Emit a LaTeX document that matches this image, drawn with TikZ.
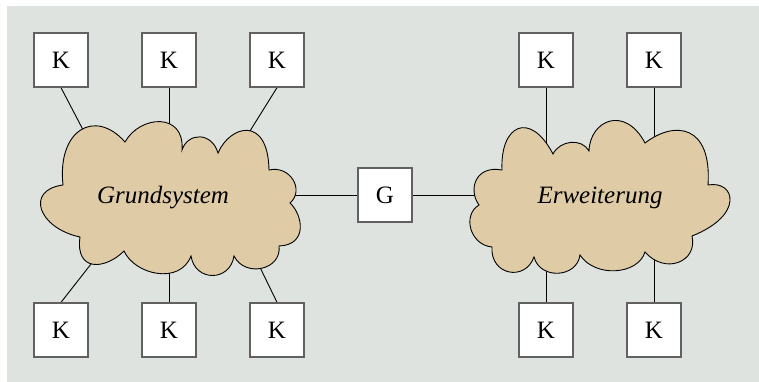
\documentclass[tikz,border=0pt]{standalone}
\usepackage{fontspec}
\setmainfont{Liberation Serif}
\usetikzlibrary{backgrounds}
\definecolor{bgc}{HTML}{DEE3DF}
\definecolor{tanc}{HTML}{DFCCA6}
\begin{document}
\begin{tikzpicture}[x=1pt,y=-1pt,
 kbox/.style={draw=black!62, line width=1.3pt, fill=white, minimum width=54pt, minimum height=54pt, inner sep=0pt, font=\fontsize{25}{30}\selectfont},
 wolke/.style={draw=black, line width=0.9pt, fill=tanc, line join=miter},
 wtext/.style={font=\fontsize{25}{30}\selectfont\itshape, inner sep=0pt},
 link/.style={draw=black, line width=0.9pt}]
\useasboundingbox (0,0) rectangle (759,382);
% left cloud
\path[wolke] (63,185)
  .. controls (57,130) and (95,108) .. (125,142)
  .. controls (140,115) and (185,112) .. (182,150)
  .. controls (188,132) and (212,132) .. (218,153)
  .. controls (230,125) and (268,115) .. (269,170)
  .. controls (290,165) and (305,190) .. (290,203)
  .. controls (303,215) and (308,245) .. (279,246)
  .. controls (282,270) and (245,278) .. (234,256)
  .. controls (230,282) and (195,282) .. (191,256)
  .. controls (180,285) and (135,275) .. (124,251)
  .. controls (105,270) and (75,272) .. (80,237)
  .. controls (38,228) and (25,190) .. cycle;
% right cloud
\path[wolke] (502,170)
  .. controls (500,125) and (530,110) .. (553,154)
  .. controls (560,140) and (582,138) .. (589,151)
  .. controls (590,120) and (625,105) .. (645,143)
  .. controls (675,120) and (712,125) .. (708,185)
  .. controls (735,180) and (745,215) .. (692,236)
  .. controls (698,262) and (665,275) .. (645,252)
  .. controls (638,275) and (595,278) .. (580,255)
  .. controls (577,278) and (540,280) .. (534,257)
  .. controls (525,282) and (490,275) .. (492,247)
  .. controls (470,245) and (462,215) .. (479,205)
  .. controls (468,190) and (475,165) .. cycle;
\node[wtext] (gs) at (163,198) {Grundsystem};
\node[wtext] (ew) at (600,198) {Erweiterung};
% boxes
\node[kbox] (k1) at (61,60) {K};
\node[kbox] (k2) at (169,60) {K};
\node[kbox] (k3) at (277,60) {K};
\node[kbox] (k4) at (61,330) {K};
\node[kbox] (k5) at (169,330) {K};
\node[kbox] (k6) at (277,330) {K};
\node[kbox] (k7) at (546,60) {K};
\node[kbox] (k8) at (654,60) {K};
\node[kbox] (k9) at (546,330) {K};
\node[kbox] (k10) at (654,330) {K};
\node[kbox] (g) at (385,195) {G};
% inner ends of connectors (hidden under the clouds)
\coordinate (a1) at (92,147);
\coordinate (a2) at (169,160);
\coordinate (a3) at (240,147);
\coordinate (a4) at (102,250);
\coordinate (a5) at (169,240);
\coordinate (a6) at (254,255);
\coordinate (a7) at (546,170);
\coordinate (a8) at (654,170);
\coordinate (a9) at (546,230);
\coordinate (a10) at (654,230);
\coordinate (gl) at (250,195);
\coordinate (gr) at (520,195);
\begin{scope}[on background layer]
\fill[bgc] (7,6) rectangle (760,383);
\draw[link] (k1.south) -- (a1);
\draw[link] (k2.south) -- (a2);
\draw[link] (k3.south) -- (a3);
\draw[link] (k4.north) -- (a4);
\draw[link] (k5.north) -- (a5);
\draw[link] (k6.north) -- (a6);
\draw[link] (k7.south) -- (a7);
\draw[link] (k8.south) -- (a8);
\draw[link] (k9.north) -- (a9);
\draw[link] (k10.north) -- (a10);
\draw[link] (gl) -- (g.west);
\draw[link] (g.east) -- (gr);
\end{scope}
\end{tikzpicture}
\end{document}
